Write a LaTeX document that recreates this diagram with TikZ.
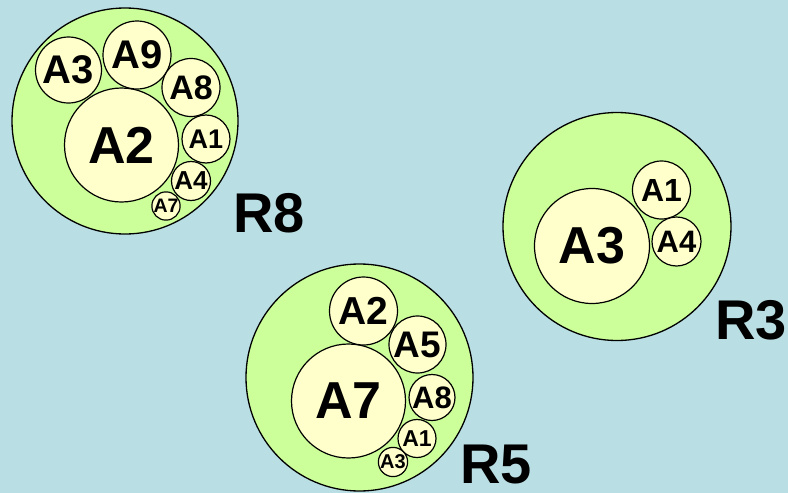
\documentclass[tikz,border=0pt]{standalone}
\usepackage{fontspec}
\setmainfont{Liberation Sans}
\usepackage{tikz}
\usetikzlibrary{positioning}
\definecolor{bgblue}{RGB}{185,222,227}
\definecolor{roomgreen}{RGB}{204,255,153}
\definecolor{itemyellow}{RGB}{255,255,204}
\newcommand{\fsz}[1]{\fontsize{#1}{#1}\selectfont\bfseries}

\begin{document}
\begin{tikzpicture}[
    x=1pt, y=-1pt,
    room/.style={circle, draw, line width=1.3pt, fill=roomgreen, inner sep=0pt, minimum size=226pt},
    item/.style={circle, draw, line width=1.2pt, fill=itemyellow, inner sep=0pt},
    tag/.style={font=\fsz{56}, inner sep=0pt}
]
    % Background
    \fill[bgblue] (0,0) rectangle (788,493);
    \useasboundingbox (0,0) rectangle (788,493);

    % Group R8
    \node[room] (r8) at (125,121) {};
    \node[item, minimum size=114pt, font=\fsz{52}] (r8a2) at (121.5,145) {A2};
    \node[item, minimum size=66pt, font=\fsz{40}] (r8a3) at (68.5,70) {A3};
    \node[item, minimum size=68pt, font=\fsz{40}] (r8a9) at (137,55) {A9};
    \node[item, minimum size=58pt, font=\fsz{34}] (r8a8) at (191,87.5) {A8};
    \node[item, minimum size=48pt, font=\fsz{27}] (r8a1) at (206,139) {A1};
    \node[item, minimum size=39pt, font=\fsz{26}] (r8a4) at (191,181) {A4};
    \node[item, minimum size=28pt, font=\fsz{19.5}] (r8a7) at (166,206) {A7};
    \node[tag] (r8tag) at (269,213) {R8};

    % Group R3
    \node[room, minimum size=228pt] (r3) at (617,226.5) {};
    \node[item, minimum size=115pt, font=\fsz{52}] (r3a3) at (592,246) {A3};
    \node[item, minimum size=58pt, font=\fsz{32}] (r3a1) at (661.5,190) {A1};
    \node[item, minimum size=49pt, font=\fsz{31}] (r3a4) at (676.5,241.5) {A4};
    \node[tag] (r3tag) at (751,320) {R3};

    % Group R5
    \node[room, minimum size=227pt] (r5) at (359.5,377.5) {};
    \node[item, minimum size=114pt, font=\fsz{52}] (r5a7) at (348.5,401) {A7};
    \node[item, minimum size=68pt, font=\fsz{39}] (r5a2) at (363.5,311) {A2};
    \node[item, minimum size=57pt, font=\fsz{37}] (r5a5) at (417.5,344.5) {A5};
    \node[item, minimum size=46pt, font=\fsz{31}] (r5a8) at (432,397.5) {A8};
    \node[item, minimum size=38pt, font=\fsz{23}] (r5a1) at (417,438.5) {A1};
    \node[item, minimum size=29pt, font=\fsz{20}] (r5a3) at (393,462) {A3};
    \node[tag] (r5tag) at (496,465) {R5};
\end{tikzpicture}
\end{document}
